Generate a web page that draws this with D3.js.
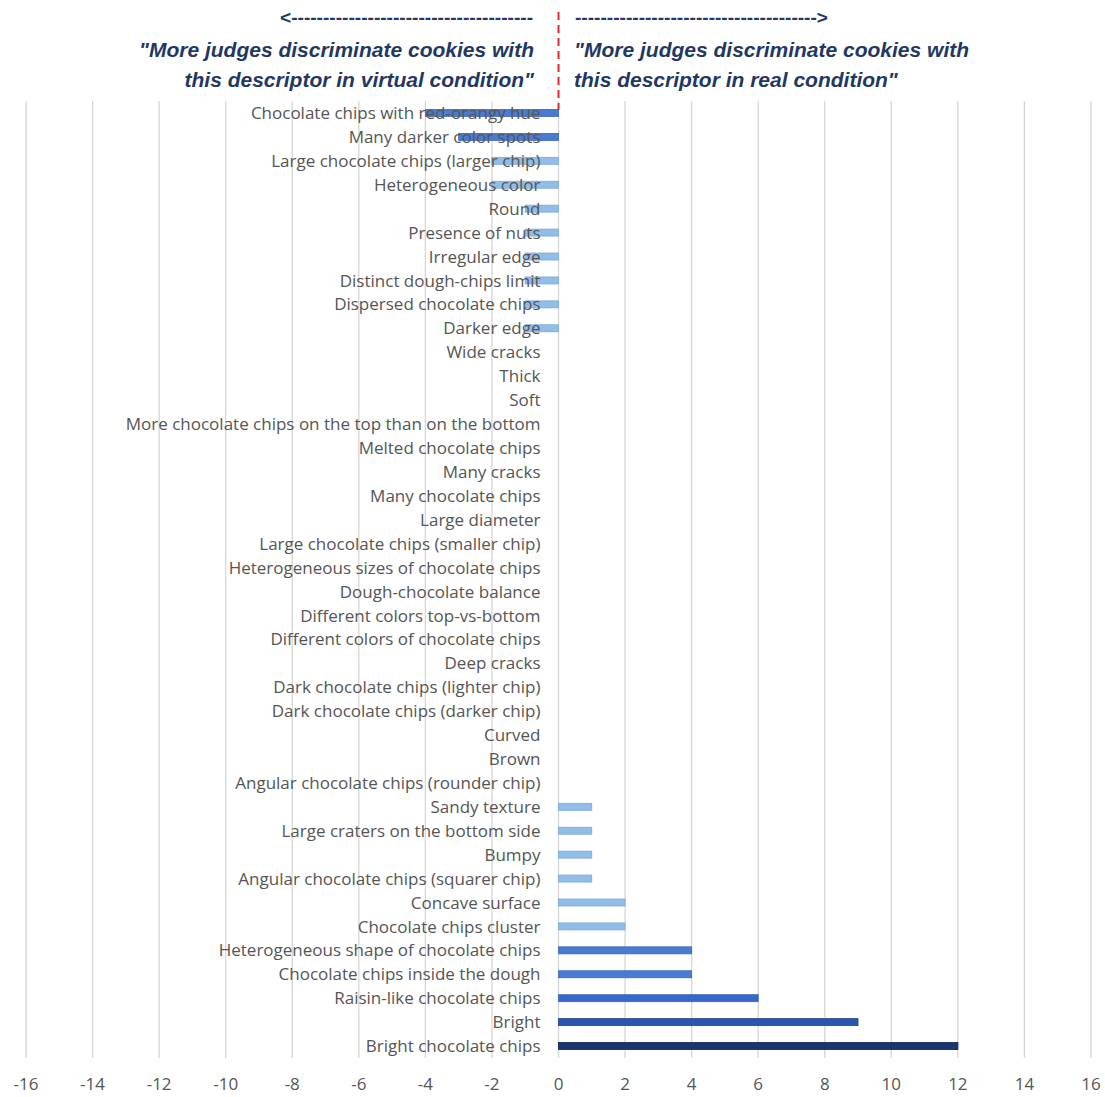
<!DOCTYPE html>
<html>
<head>
<meta charset="utf-8">
<script src="https://cdn.jsdelivr.net/npm/d3@7"></script>
<style>
  html, body { margin: 0; padding: 0; background: #fff; }
  svg { display: block; }
</style>
</head>
<body>
<svg id="chart" width="1105" height="1097"></svg>
<script>
// ---- data ----
const categories = [
  "Chocolate chips with red-orangy hue",
  "Many darker color spots",
  "Large chocolate chips (larger chip)",
  "Heterogeneous color",
  "Round",
  "Presence of nuts",
  "Irregular edge",
  "Distinct dough-chips limit",
  "Dispersed chocolate chips",
  "Darker edge",
  "Wide cracks",
  "Thick",
  "Soft",
  "More chocolate chips on the top than on the bottom",
  "Melted chocolate chips",
  "Many cracks",
  "Many chocolate chips",
  "Large diameter",
  "Large chocolate chips (smaller chip)",
  "Heterogeneous sizes of chocolate chips",
  "Dough-chocolate balance",
  "Different colors top-vs-bottom",
  "Different colors of chocolate chips",
  "Deep cracks",
  "Dark chocolate chips (lighter chip)",
  "Dark chocolate chips (darker chip)",
  "Curved",
  "Brown",
  "Angular chocolate chips (rounder chip)",
  "Sandy texture",
  "Large craters on the bottom side",
  "Bumpy",
  "Angular chocolate chips (squarer chip)",
  "Concave surface",
  "Chocolate chips cluster",
  "Heterogeneous shape of chocolate chips",
  "Chocolate chips inside the dough",
  "Raisin-like chocolate chips",
  "Bright",
  "Bright chocolate chips"
];
const values = [
  -4, -3, -2, -2, -1, -1, -1, -1, -1, -1,
  0, 0, 0, 0, 0, 0, 0, 0, 0, 0,
  0, 0, 0, 0, 0, 0, 0, 0, 0,
  1, 1, 1, 1, 2, 2, 4, 4, 6, 9, 12
];
const tickValues = [-16, -14, -12, -10, -8, -6, -4, -2, 0, 2, 4, 6, 8, 10, 12, 14, 16];
const headerLeft = ["\"More judges discriminate cookies with", "this descriptor in virtual condition\""];
const headerRight = ["\"More judges discriminate cookies with", "this descriptor in real condition\""];
const arrowLeft = "<" + "-".repeat(38);
const arrowRight = "-".repeat(38) + ">";

// ---- layout ----
const svg = d3.select("#chart");
const plot = { left: 26, right: 1091, top: 101, bottom: 1058 };

const x = d3.scaleLinear().domain([-16, 16]).range([plot.left, plot.right]);
const y = d3.scaleBand().domain(categories).range([plot.top, plot.bottom]).paddingInner(0.72).paddingOuter(0.36);

const fillFor = v => {
  const a = Math.abs(v);
  if (a >= 12) return "#1a3570";
  if (a >= 9) return "#2b56ad";
  if (a >= 6) return "#3767c9";
  if (a >= 3) return "#4a7bd2";
  return "#92bde8";
};
const strokeFor = v => {
  const a = Math.abs(v);
  if (a >= 12) return "#0e2352";
  if (a >= 9) return "#1f4796";
  if (a >= 3) return "#3a66b8";
  return "#7aa8da";
};

// gridlines
svg.append("g")
  .selectAll("line")
  .data(tickValues)
  .join("line")
  .attr("x1", d => x(d)).attr("x2", d => x(d))
  .attr("y1", plot.top).attr("y2", plot.bottom)
  .attr("stroke", "#d6d6d6")
  .attr("stroke-width", 1.3);

// bars
const rows = categories.map((c, i) => ({ c, v: values[i] }));
svg.append("g")
  .selectAll("rect")
  .data(rows.filter(d => d.v !== 0))
  .join("rect")
  .attr("x", d => Math.min(x(0), x(d.v)))
  .attr("width", d => Math.abs(x(d.v) - x(0)))
  .attr("y", d => y(d.c) + y.bandwidth() / 2 - 3.5)
  .attr("height", 7)
  .attr("fill", d => fillFor(d.v))
  .attr("stroke", d => strokeFor(d.v))
  .attr("stroke-width", 0.8);

// category labels (drawn over bars)
svg.append("g")
  .selectAll("text")
  .data(categories)
  .join("text")
  .attr("x", x(0) - 18)
  .attr("y", d => y(d) + y.bandwidth() / 2)
  .attr("dy", "0.36em")
  .attr("text-anchor", "end")
  .attr("font-family", "'Open Sans', 'Liberation Sans', sans-serif")
  .attr("font-size", 17)
  .attr("fill", "#555555")
  .text(d => d);

// x axis tick labels
svg.append("g")
  .selectAll("text")
  .data(tickValues)
  .join("text")
  .attr("x", d => x(d))
  .attr("y", 1090)
  .attr("text-anchor", "middle")
  .attr("font-family", "'Open Sans', 'Liberation Sans', sans-serif")
  .attr("font-size", 17)
  .attr("fill", "#555555")
  .text(d => d);

// red dashed divider
svg.append("line")
  .attr("x1", x(0)).attr("x2", x(0))
  .attr("y1", 12).attr("y2", 110)
  .attr("stroke", "#e8282a")
  .attr("stroke-width", 2)
  .attr("stroke-dasharray", "8,5");

// header
const navy = "#1f3864";
const hdr = svg.append("g")
  .attr("font-family", "'Liberation Sans', Arial, sans-serif")
  .attr("font-weight", "bold")
  .attr("font-style", "italic")
  .attr("fill", navy);

hdr.append("text").attr("x", 533).attr("y", 24).attr("text-anchor", "end")
  .attr("font-size", 18).attr("font-style", "normal")
  .attr("textLength", 253).attr("lengthAdjust", "spacingAndGlyphs").text(arrowLeft);
hdr.append("text").attr("x", 575).attr("y", 24).attr("text-anchor", "start")
  .attr("font-size", 18).attr("font-style", "normal")
  .attr("textLength", 253).attr("lengthAdjust", "spacingAndGlyphs").text(arrowRight);

headerLeft.forEach((t, i) => {
  hdr.append("text").attr("x", 534).attr("y", 57 + i * 30)
    .attr("text-anchor", "end").attr("font-size", 21).text(t);
});
headerRight.forEach((t, i) => {
  hdr.append("text").attr("x", 574).attr("y", 57 + i * 30)
    .attr("text-anchor", "start").attr("font-size", 21).text(t);
});
</script>
</body>
</html>
